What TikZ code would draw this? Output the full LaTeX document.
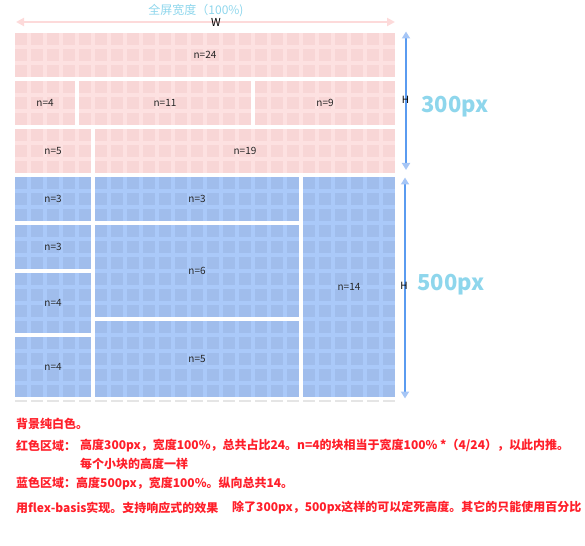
\documentclass[tikz,border=0pt]{standalone}
\usepackage{fontspec}
\setmainfont{Noto Sans CJK SC}
\usetikzlibrary{arrows.meta,backgrounds}
\definecolor{TileRed}{HTML}{FDE1E1}
\definecolor{TileRedDark}{HTML}{F8D6D6}
\definecolor{TileBlue}{HTML}{AAC9F9}
\definecolor{TileBlueDark}{HTML}{A0BDEC}
\definecolor{RulerBlue}{HTML}{5A9BF0}
\definecolor{RulerTip}{HTML}{A6C6F6}
\definecolor{RulerPink}{HTML}{FDDADA}
\definecolor{CaptionBlue}{HTML}{8ED6EC}
\definecolor{NoteRed}{HTML}{FF1F2A}

\begin{document}
\begin{tikzpicture}[
    x=1pt,y=-1pt,
    block/.style={anchor=north west,inner sep=0pt,outer sep=0pt,font=\fontsize{10}{10}\selectfont,text=black!85},
    wh/.style 2 args={minimum width=#1pt,minimum height=#2pt},
    ruler/.style={draw=RulerBlue,line width=2pt,{Triangle[length=7pt,width=8pt,color=RulerTip]}-{Triangle[length=7pt,width=8pt,color=RulerTip]}},
    widthruler/.style={draw=RulerPink,line width=2pt,{Triangle[length=8pt,width=8pt]}-{Triangle[length=8pt,width=8pt]}},
    hmark/.style={inner sep=0pt,font=\fontsize{10}{10}\selectfont},
    pxlabel/.style={inner sep=0pt,anchor=west,text=CaptionBlue,font=\bfseries\fontsize{22}{22}\selectfont},
    note/.style={inner sep=0pt,anchor=west,text=NoteRed,font=\bfseries\fontsize{12}{12}\selectfont}
  ]
  \useasboundingbox (0,0) rectangle (585,545);

  \node[inner sep=0pt,text=CaptionBlue,font=\fontsize{12}{12}\selectfont] (caption) at (196,11) {全屏宽度（100\%)};
  \coordinate (wleft) at (16,22);
  \coordinate (wright) at (395,22);
  \draw[widthruler] (wleft) -- (wright);
  \node[inner sep=0pt,font=\fontsize{11}{11}\selectfont] (wmark) at (216,22.5) {W};

  % red area, 300px high
  \node[block,wh={380}{44}] (r24) at (15,33) {n=24};
  \node[block,wh={60}{44}] (r4) at (15,81) {n=4};
  \node[block,wh={172}{44}] (r11) at (79,81) {n=11};
  \node[block,wh={140}{44}] (r9) at (255,81) {n=9};
  \node[block,wh={76}{44}] (r5) at (15,129) {n=5};
  \node[block,wh={300}{44}] (r19) at (95,129) {n=19};

  % blue area, 500px high
  \node[block,wh={76}{44}] (b3a) at (15,177) {n=3};
  \node[block,wh={76}{44}] (b3b) at (15,225) {n=3};
  \node[block,wh={76}{60}] (b4a) at (15,273) {n=4};
  \node[block,wh={76}{60}] (b4b) at (15,337) {n=4};
  \node[block,wh={204}{44}] (m3) at (95,177) {n=3};
  \node[block,wh={204}{92}] (m6) at (95,225) {n=6};
  \node[block,wh={204}{76}] (m5) at (95,321) {n=5};
  \node[block,wh={92}{220}] (b14) at (303,177) {n=14};

  % tiled backgrounds of the blocks
  \begin{scope}[on background layer]
    \foreach \b/\lite/\dark in {r24/TileRed/TileRedDark,r4/TileRed/TileRedDark,r11/TileRed/TileRedDark,
        r9/TileRed/TileRedDark,r5/TileRed/TileRedDark,r19/TileRed/TileRedDark,
        b3a/TileBlue/TileBlueDark,b3b/TileBlue/TileBlueDark,b4a/TileBlue/TileBlueDark,b4b/TileBlue/TileBlueDark,
        m3/TileBlue/TileBlueDark,m6/TileBlue/TileBlueDark,m5/TileBlue/TileBlueDark,b14/TileBlue/TileBlueDark} {
      \fill[\lite] (\b.north west) rectangle (\b.south east);
      \begin{scope}
        \clip (\b.north west) rectangle (\b.south east);
        \begin{scope}[shift={(\b.north west)}]
          \foreach \c in {0,...,23} \foreach \r in {0,...,13}
            \fill[\dark] (\c*16pt,-\r*16pt) rectangle ++(12pt,-12pt);
        \end{scope}
      \end{scope}
    }
  \end{scope}

  \draw[black!10,line width=1.5pt,dash pattern=on 12pt off 4pt] (15,401) -- (395,401);

  \coordinate (htop) at (406,31.5);
  \coordinate (hbot) at (406,170);
  \draw[ruler] (htop) -- (hbot);
  \node[hmark] (hred) at (405.5,100) {H};
  \node[pxlabel] (px300) at (421,107) {300px};

  \coordinate (htop2) at (405,177.5);
  \coordinate (hbot2) at (405,398.5);
  \draw[ruler] (htop2) -- (hbot2);
  \node[hmark] (hblue) at (404,286) {H};
  \node[pxlabel] (px500) at (417,285) {500px};

  \node[note] (bg) at (16,423.5) {背景纯白色。};
  \node[note] (redarea) at (16,446) {红色区域：};
  \node[note] (redtext) at (80,446) {高度300px，宽度100\%，总共占比24。n=4的块相当于宽度100\% *（4/24），以此内推。};
  \node[note] (redtext2) at (80,463.5) {每个小块的高度一样};
  \node[note] (bluearea) at (16,483.5) {蓝色区域：高度500px，宽度100\%。纵向总共14。};
  \node[note] (flex) at (16,507.5) {用flex-basis实现。支持响应式的效果};
  \node[note] (fixed) at (232,507.5) {除了300px，500px这样的可以定死高度。其它的只能使用百分比};
\end{tikzpicture}
\end{document}
